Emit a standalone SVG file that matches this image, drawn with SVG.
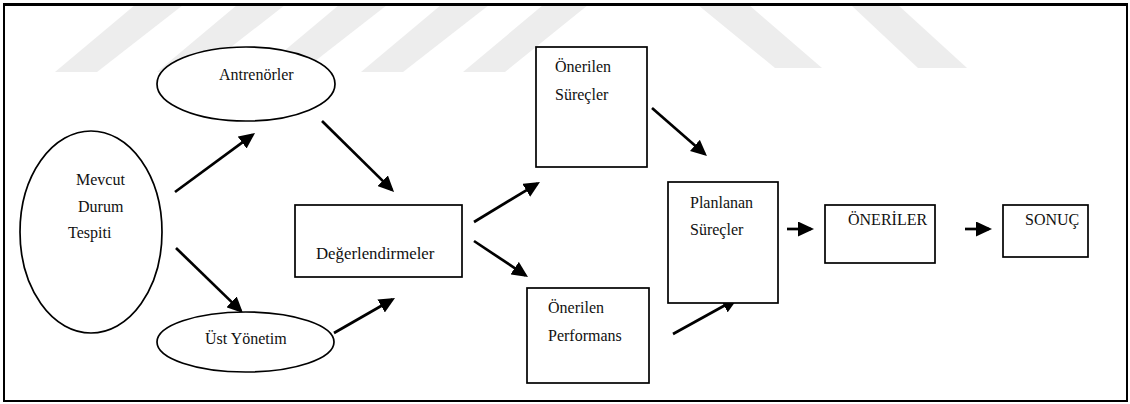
<svg xmlns="http://www.w3.org/2000/svg" width="1130" height="404" viewBox="0 0 1130 404">
<style>
.wm{fill:#ededed;stroke:none}
.shape{fill:#fff;stroke:#000;stroke-width:1.7}
.frame{fill:none;stroke:#000;stroke-width:2}
.lbl{font-family:"Liberation Serif","Times New Roman",serif;font-size:16px;fill:#111}
.conn{stroke:#000;stroke-width:2.7;fill:none;marker-end:url(#ah)}
</style>
<defs>
<marker id="ah" markerUnits="userSpaceOnUse" markerWidth="17" markerHeight="15" refX="13" refY="7.5" orient="auto">
<path d="M0,0 L16,7.5 L0,15 z" fill="#000"/>
</marker>
</defs>
<rect x="0" y="0" width="1130" height="404" fill="#fff"/>
<g id="watermark">
<polygon class="wm" points="135,5 183,5 97,72 55,72"/>
<polygon class="wm" points="237,5 285,5 199,72 157,72"/>
<polygon class="wm" points="339,5 387,5 301,72 259,72"/>
<polygon class="wm" points="441,5 489,5 403,72 361,72"/>
<polygon class="wm" points="543,5 588,5 505,72 463,72"/>
<polygon class="wm" points="698,5 749,5 822,68 775,68"/>
<polygon class="wm" points="851,5 898,5 967,68 918,68"/>
</g>
<rect class="frame" x="4" y="4.5" width="1123" height="396.5"/>
<line x1="3" y1="4.5" x2="1128" y2="4.5" stroke="#000" stroke-width="3"/>
<g id="connectors">
<line class="conn" x1="175" y1="192" x2="252.6" y2="134.8"/>
<line class="conn" x1="322" y1="121" x2="391.9" y2="189.9"/>
<line class="conn" x1="176" y1="248" x2="240.8" y2="310.9"/>
<line class="conn" x1="334" y1="333" x2="392.4" y2="299.5"/>
<line class="conn" x1="474" y1="222" x2="537.4" y2="183.6"/>
<line class="conn" x1="474" y1="241" x2="525.5" y2="275.3"/>
<line class="conn" x1="652" y1="108" x2="704.7" y2="154"/>
<line class="conn" x1="673" y1="334" x2="735.4" y2="299.5"/>
<line class="conn" x1="787" y1="229" x2="811" y2="229"/>
<line class="conn" x1="965" y1="229" x2="989" y2="229"/>
</g>
<g id="mevcut">
<ellipse class="shape" cx="91" cy="232" rx="71" ry="101"/>
<text class="lbl" x="76" y="185">Mevcut</text>
<text class="lbl" x="78" y="212">Durum</text>
<text class="lbl" x="68" y="238">Tespiti</text>
</g>
<g id="antrenorler">
<ellipse class="shape" cx="246" cy="84" rx="89" ry="37"/>
<text class="lbl" x="219" y="80">Antrenörler</text>
</g>
<g id="ustyonetim">
<ellipse class="shape" cx="245.5" cy="342" rx="88.5" ry="30"/>
<text class="lbl" x="205" y="344">Üst Yönetim</text>
</g>
<g id="degerlendirmeler">
<rect class="shape" x="295" y="205" width="167" height="72"/>
<text class="lbl" x="316" y="259" style="font-size:16.8px">Değerlendirmeler</text>
</g>
<g id="onerilen-surecler">
<rect class="shape" x="536" y="47" width="111" height="120"/>
<text class="lbl" x="555" y="72">Önerilen</text>
<text class="lbl" x="555" y="100">Süreçler</text>
</g>
<g id="onerilen-performans">
<rect class="shape" x="527" y="288" width="122" height="95"/>
<text class="lbl" x="548" y="313">Önerilen</text>
<text class="lbl" x="548" y="341">Performans</text>
</g>
<g id="planlanan">
<rect class="shape" x="668" y="182" width="110" height="121"/>
<text class="lbl" x="690" y="208">Planlanan</text>
<text class="lbl" x="690" y="235">Süreçler</text>
</g>
<g id="oneriler">
<rect class="shape" x="825" y="205" width="110" height="58"/>
<text class="lbl" x="848" y="225">ÖNERİLER</text>
</g>
<g id="sonuc">
<rect class="shape" x="1003" y="205" width="85" height="52"/>
<text class="lbl" x="1025" y="225">SONUÇ</text>
</g>
</svg>
